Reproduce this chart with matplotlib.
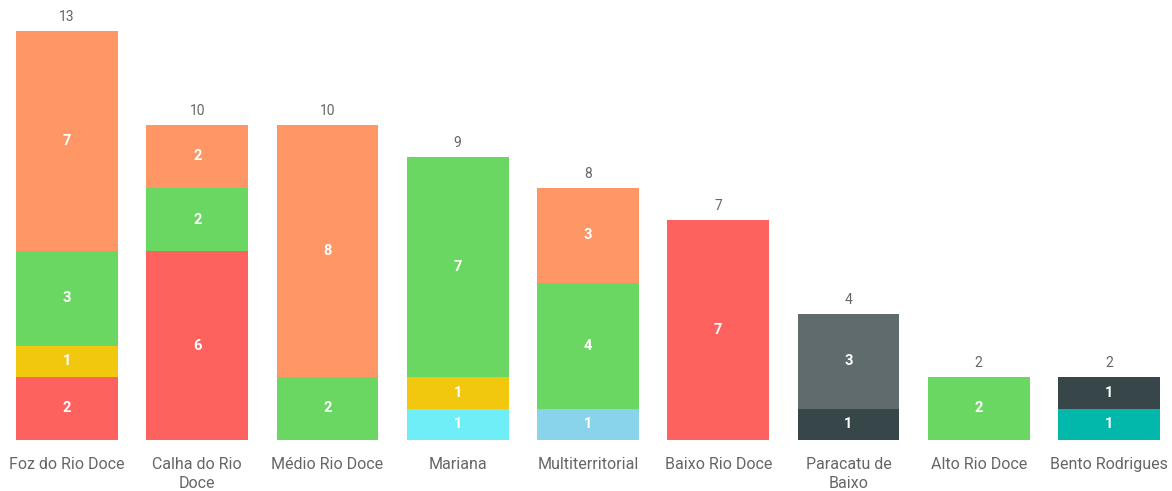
import matplotlib as mpl
mpl.use('Agg')

import matplotlib.pyplot as plt
import numpy as np

# Categories (x axis)
categories = ['Foz do Rio Doce', 'Calha do Rio\nDoce', 'Médio Rio Doce',
              'Mariana', 'Multiterritorial', 'Baixo Rio Doce',
              'Paracatu de\nBaixo', 'Alto Rio Doce', 'Bento Rodrigues']

# Stacked series, bottom to top
red        = [2, 6, 0, 0, 0, 7, 0, 0, 0]
cyan       = [0, 0, 0, 1, 0, 0, 0, 0, 0]
light_blue = [0, 0, 0, 0, 1, 0, 0, 0, 0]
teal       = [0, 0, 0, 0, 0, 0, 0, 0, 1]
dark       = [0, 0, 0, 0, 0, 0, 1, 0, 1]
yellow     = [1, 0, 0, 1, 0, 0, 0, 0, 0]
green      = [3, 2, 2, 7, 4, 0, 0, 2, 0]
grey       = [0, 0, 0, 0, 0, 0, 3, 0, 0]
orange     = [7, 2, 8, 0, 3, 0, 0, 0, 0]

series = [
    (red, '#FD625E'),
    (cyan, '#6FEEF8'),
    (light_blue, '#8AD4EB'),
    (teal, '#01B8AA'),
    (dark, '#374649'),
    (yellow, '#F2C80F'),
    (green, '#6AD763'),
    (grey, '#5F6B6D'),
    (orange, '#FE9666'),
]

plt.rcParams['font.family'] = ['Roboto', 'DejaVu Sans']

fig = plt.figure(figsize=(11.72, 4.91), dpi=100)
ax = fig.add_axes([0, 1 - 440 / 491, 1, 437.85 / 491])

x = np.arange(len(categories))
bottom = np.zeros(len(categories))
for vals, col in series:
    vals = np.array(vals, dtype=float)
    ax.bar(x, vals, width=0.78, bottom=bottom, color=col, linewidth=0)
    for xi, v, b in zip(x, vals, bottom):
        if v > 0:
            ax.text(xi, b + v / 2, f'{int(v)}', ha='center', va='center',
                    color='white', fontsize=10.5, fontweight='bold')
    bottom += vals

# totals above bars
for xi, tot in zip(x, bottom):
    ax.text(xi, tot + 0.22, f'{int(tot)}', ha='center', va='bottom',
            color='#666666', fontsize=10)

ax.set_xlim(-0.514, 8.484)
ax.set_ylim(0, 13.9)
ax.axis('off')

# category labels
for xi, lab in zip(x, categories):
    ax.text(xi, -0.55, lab, ha='center', va='top', color='#666666',
            fontsize=11.5, linespacing=1.3)

fig.savefig('out.png', dpi=100)
